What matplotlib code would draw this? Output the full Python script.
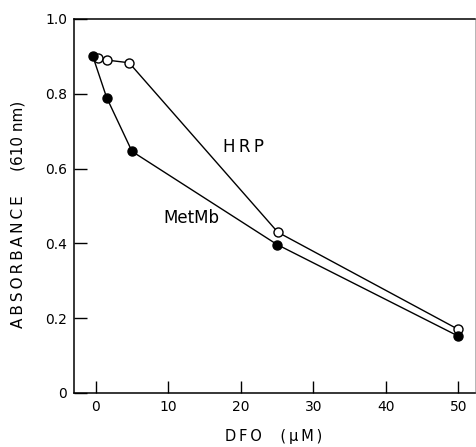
import matplotlib
matplotlib.use('Agg')
import matplotlib.pyplot as plt

# DFO concentration (uM) and absorbance at 610 nm
metmb_x = [-0.4, 1.5, 5, 25, 50]
metmb_y = [0.90, 0.79, 0.646, 0.397, 0.152]

hrp_x = [0.3, 1.6, 4.6, 25.1, 50]
hrp_y = [0.895, 0.890, 0.883, 0.43, 0.17]

x_ticks = [0, 10, 20, 30, 40, 50]
y_ticks = [0, 0.2, 0.4, 0.6, 0.8, 1.0]
y_tick_labels = ['0', '0.2', '0.4', '0.6', '0.8', '1.0']

plt.rcParams['font.family'] = ['DejaVu Sans']

W, H = 476, 447
fig = plt.figure(figsize=(W / 100, H / 100), dpi=100)
ax = fig.add_axes([74 / W, 1 - 393 / H, (475 - 74) / W, (393 - 19) / H])

ax.plot(hrp_x, hrp_y, '-o', color='black', lw=1.0, ms=6.5,
        mfc='white', mec='black', mew=1.0, zorder=3)
ax.plot(metmb_x, metmb_y, '-o', color='black', lw=1.0, ms=6.5,
        mfc='black', mec='black', zorder=4)

ts = '\u2009'  # thin space for letter spacing
fig.text(223 / W, 1 - 147 / H, ts.join('HRP'), fontsize=12, va='center', ha='left')
fig.text(163 / W, 1 - 218 / H, 'MetMb', fontsize=12, va='center', ha='left')

ax.set_xlim(-3, 52.3)
ax.set_ylim(0, 1.0)
ax.set_xticks(x_ticks)
ax.set_yticks(y_ticks)
ax.set_yticklabels(y_tick_labels)
ax.tick_params(direction='in', length=9, width=1, labelsize=10, pad=5)

for side in ['left', 'bottom', 'top']:
    ax.spines[side].set_linewidth(1.1)
ax.spines['right'].set_linewidth(0.5)
ax.spines['right'].set_color('#999999')

fig.text(18 / W, 1 - 214 / H, ts.join('ABSORBANCE') + '     (610 nm)',
         fontsize=11, rotation=90, va='center', ha='center')
fig.text(274 / W, 1 - 437 / H, ts.join('DFO') + '    ' + ts.join('(μM)'),
         fontsize=10.5, va='center', ha='center')

fig.savefig('out.png', dpi=100)
